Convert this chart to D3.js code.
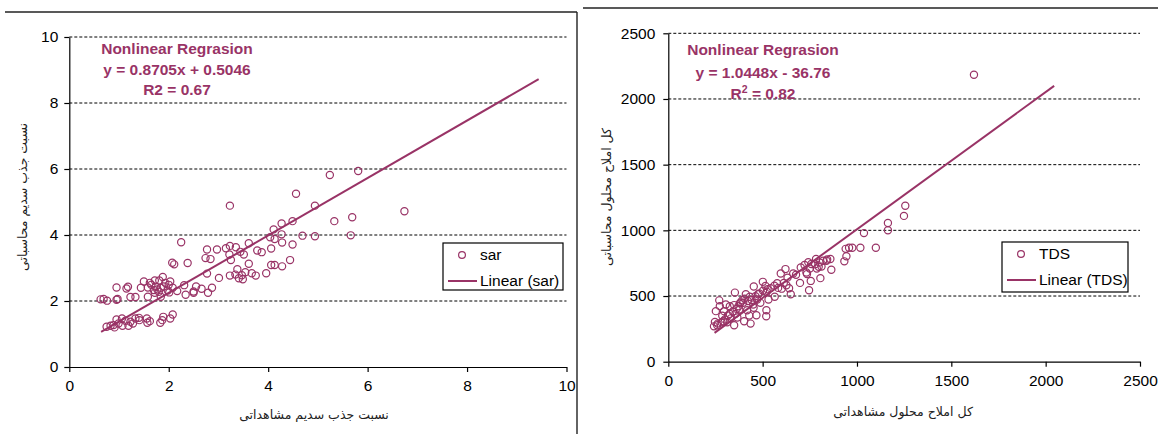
<!DOCTYPE html>
<html>
<head>
<meta charset="utf-8">
<script src="https://cdn.jsdelivr.net/npm/d3@7"></script>
<style>
  html, body { margin: 0; padding: 0; background: #fff; }
  svg { display: block; }
</style>
</head>
<body>
<svg id="chart" width="1158" height="434"></svg>
<script>
// ---- SAR panel data (observed, calculated) ----
const sarPoints = [
  [5.24,5.82],[5.81,5.94],[4.56,5.25],[3.23,4.89],[4.94,4.89],[5.33,4.42],[5.69,4.54],[6.74,4.72],
  [4.49,4.42],[4.27,4.35],[4.11,4.17],[4.69,3.98],[4.94,3.96],[5.66,3.99],[4.27,4.02],[4.13,3.88],
  [4.04,3.93],[4.28,3.77],[4.49,3.71],[4.06,3.59],[4.44,3.24],[4.28,3.05],[4.13,3.09],[4.06,3.09],
  [3.96,2.84],[3.75,2.77],[3.67,2.84],[3.61,3.13],[3.61,3.75],[3.78,3.53],[3.87,3.48],[3.15,3.60],
  [3.23,3.67],[3.35,3.63],[3.44,3.49],[3.51,3.41],[3.22,3.41],[3.25,3.24],[3.23,2.77],[3.34,2.80],
  [3.38,2.96],[3.47,2.78],[3.49,2.66],[3.54,2.87],[3.41,2.69],[2.77,3.56],[2.97,3.56],[2.74,3.30],
  [2.84,3.27],[2.77,2.83],[3.01,2.70],[2.87,2.40],[2.79,2.25],[2.25,3.78],[2.07,3.16],[2.11,3.11],
  [2.38,3.15],[2.03,2.59],[2.17,2.30],[2.31,2.48],[2.34,2.19],[2.50,2.29],[2.55,2.44],[2.66,2.37],
  [2.50,2.25],[2.08,2.40],[2.01,2.26],[0.95,2.41],[1.18,2.43],[1.15,2.38],[1.44,2.40],[1.50,2.59],
  [1.58,2.41],[1.58,2.13],[1.72,2.62],[1.88,2.73],[1.81,2.62],[1.74,2.43],[1.84,2.40],[1.90,2.44],
  [1.72,2.25],[1.80,2.28],[2.00,2.49],[1.65,2.49],[1.70,2.33],[1.84,2.13],[1.23,2.12],[1.33,2.12],
  [0.97,2.06],[0.95,2.04],[0.63,2.05],[0.69,2.06],[0.76,2.01],[0.75,1.22],[0.83,1.25],[0.91,1.20],
  [0.89,1.27],[0.95,1.44],[1.06,1.47],[1.07,1.25],[1.19,1.25],[1.23,1.37],[1.28,1.32],[1.33,1.47],
  [1.40,1.49],[1.41,1.42],[1.56,1.47],[1.57,1.34],[1.62,1.39],[1.83,1.34],[1.87,1.42],[1.89,1.52],
  [2.03,1.47],[2.08,1.59],[0.99,1.32],[1.13,1.40],[1.93,2.55],[1.62,2.55],[1.77,2.35],[1.98,2.32]
];
const sarFit = [0.8705, 0.5046];      // slope, intercept
const sarFitRange = [0.64, 9.44];
const sarTicks = [0, 2, 4, 6, 8, 10];
const sarNote = ["Nonlinear Regrasion", "y = 0.8705x + 0.5046", "R2 = 0.67"];
const sarLegend = ["sar", "Linear (sar)"];
const sarTitleX = "نسبت جذب سدیم مشاهداتی";
const sarTitleY = "نسبت جذب سدیم محاسباتی";

// ---- TDS panel data (observed, calculated) ----
const tdsPoints = [
  [1620,2185],[1256,1187],[1249,1110],[1164,1056],[1164,1000],[1037,979],[1100,867],[1018,867],
  [975,867],[958,867],[940,859],[944,803],[933,764],[864,700],[859,782],[838,769],[820,769],
  [802,756],[783,782],[797,723],[787,710],[806,636],[758,744],[750,710],[732,679],[735,667],
  [755,615],[746,544],[698,600],[677,662],[621,705],[596,672],[649,513],[640,559],[626,582],
  [601,556],[577,597],[564,495],[531,474],[520,392],[519,346],[526,551],[515,577],[501,608],
  [476,513],[471,474],[467,354],[453,572],[450,436],[436,290],[429,351],[432,495],[411,513],
  [397,449],[379,444],[402,308],[353,526],[349,431],[349,277],[376,397],[356,364],[326,423],
  [326,364],[305,436],[295,385],[291,308],[270,467],[273,423],[252,385],[247,303],[242,269],
  [259,277],[262,290],[282,300],[300,322],[312,300],[332,330],[342,382],[362,402],[372,422],
  [384,452],[392,468],[404,480],[422,462],[442,470],[462,498],[482,520],[502,540],[522,532],
  [542,560],[562,578],[582,562],[612,600],[632,640],[662,672],[702,718],[722,736],[742,758],
  [778,742],[812,724],[842,778],[452,410],[488,448],[418,392],[366,336],[316,352],[286,350]
];
const tdsFit = [1.0448, -36.76];
const tdsFitRange = [245, 2045];
const tdsTicks = [0, 500, 1000, 1500, 2000, 2500];
const tdsNote = ["Nonlinear Regrasion", "y = 1.0448x - 36.76", "R", "2", " = 0.82"];
const tdsLegend = ["TDS", "Linear (TDS)"];
const tdsTitleX = "کل املاح محلول مشاهداتی";
const tdsTitleY = "کل املاح محلول محاسباتی";

const markColor = "#993366";
const svg = d3.select("#chart");
svg.append("rect").attr("width", 1158).attr("height", 434).attr("fill", "#fff");

// panel frame lines
svg.append("line").attr("x1", 5).attr("y1", 12).attr("x2", 577).attr("y2", 12)
  .attr("stroke", "#222").attr("stroke-width", 1.4);
svg.append("line").attr("x1", 577).attr("y1", 12).attr("x2", 577).attr("y2", 434)
  .attr("stroke", "#222").attr("stroke-width", 1.4);
svg.append("line").attr("x1", 583).attr("y1", 8).attr("x2", 1158).attr("y2", 8)
  .attr("stroke", "#222").attr("stroke-width", 1.4);

function drawPanel(p) {
  const g = svg.append("g");
  const x = d3.scaleLinear().domain(p.domain).range(p.xRange);
  const y = d3.scaleLinear().domain(p.domain).range(p.yRange);

  // dashed horizontal gridlines
  g.selectAll("line.grid").data(p.ticks.filter(t => t > 0)).join("line")
    .attr("class", "grid")
    .attr("x1", x(p.domain[0])).attr("x2", x(p.domain[1]))
    .attr("y1", d => y(d)).attr("y2", d => y(d))
    .attr("stroke", "#000").attr("stroke-width", 1).attr("stroke-dasharray", "3,2");

  const ax = g.append("g").attr("transform", `translate(0,${y(p.domain[0])})`)
    .call(d3.axisBottom(x).tickValues(p.ticks).tickSize(5).tickSizeOuter(0).tickPadding(8)
      .tickFormat(d3.format("d")));
  const ay = g.append("g").attr("transform", `translate(${x(p.domain[0])},0)`)
    .call(d3.axisLeft(y).tickValues(p.ticks).tickSize(5).tickSizeOuter(0).tickPadding(p.yPad)
      .tickFormat(d3.format("d")));
  [ax, ay].forEach(a => {
    a.selectAll("path, line").attr("stroke", "#000").attr("stroke-width", 1.2);
    a.selectAll("text").attr("font-family", "Liberation Sans, Arial, sans-serif")
      .attr("font-size", 15.5).attr("fill", "#000");
  });

  // regression line from its equation
  const fx = p.fitRange;
  g.append("line")
    .attr("x1", x(fx[0])).attr("y1", y(p.fit[0] * fx[0] + p.fit[1]))
    .attr("x2", x(fx[1])).attr("y2", y(p.fit[0] * fx[1] + p.fit[1]))
    .attr("stroke", markColor).attr("stroke-width", 2);

  // observed vs calculated points
  g.selectAll("circle.pt").data(p.points).join("circle")
    .attr("class", "pt")
    .attr("cx", d => x(d[0])).attr("cy", d => y(d[1])).attr("r", 3.6)
    .attr("fill", "none").attr("stroke", markColor).attr("stroke-width", 1.2);

  // equation note
  const note = g.append("g").attr("font-family", "Liberation Sans, Arial, sans-serif")
    .attr("font-weight", "bold").attr("font-size", 15.5).attr("fill", markColor)
    .attr("text-anchor", "middle");
  p.noteLines.forEach((ln, i) => {
    const t = note.append("text").attr("x", p.noteX).attr("y", p.noteY[i]);
    if (Array.isArray(ln)) {
      t.append("tspan").text(ln[0]);
      t.append("tspan").attr("dy", -6).attr("font-size", 10.5).text(ln[1]);
      t.append("tspan").attr("dy", 6).text(ln[2]);
    } else {
      t.text(ln);
    }
  });

  // legend
  const L = p.legend;
  const lg = g.append("g");
  lg.append("rect").attr("x", L.x).attr("y", L.y).attr("width", L.w).attr("height", L.h)
    .attr("fill", "#fff").attr("stroke", "#000").attr("stroke-width", 1.2);
  lg.append("circle").attr("cx", L.x + 19).attr("cy", L.y + 12).attr("r", 3.4)
    .attr("fill", "none").attr("stroke", markColor).attr("stroke-width", 1.2);
  lg.append("line").attr("x1", L.x + 5).attr("x2", L.x + 34)
    .attr("y1", L.y + 38).attr("y2", L.y + 38)
    .attr("stroke", markColor).attr("stroke-width", 2);
  lg.selectAll("text").data(p.legendText).join("text")
    .attr("x", L.x + 37).attr("y", (d, i) => L.y + 17 + i * 26)
    .attr("font-family", "Liberation Sans, Arial, sans-serif").attr("font-size", 15.5)
    .attr("fill", "#000").text(d => d);

  // axis titles
  g.append("text").attr("x", p.titleX[0]).attr("y", p.titleX[1])
    .attr("text-anchor", "middle").attr("direction", "rtl")
    .attr("font-family", "DejaVu Sans, sans-serif").attr("font-size", 12.5).attr("fill", "#222")
    .text(p.titleXText);
  g.append("text")
    .attr("transform", `translate(${p.titleY[0]},${p.titleY[1]}) rotate(-90)`)
    .attr("text-anchor", "middle").attr("direction", "rtl")
    .attr("font-family", "DejaVu Sans, sans-serif").attr("font-size", 12.5).attr("fill", "#222")
    .text(p.titleYText);
}

drawPanel({
  domain: [0, 10], xRange: [69.3, 566.5], yRange: [367, 37], ticks: sarTicks, yPad: 6,
  points: sarPoints, fit: sarFit, fitRange: sarFitRange,
  noteLines: sarNote, noteX: 177, noteY: [54, 75, 95],
  legend: { x: 443, y: 243, w: 120, h: 47 }, legendText: sarLegend,
  titleX: [314, 419], titleXText: sarTitleX,
  titleY: [27, 197], titleYText: sarTitleY
});

drawPanel({
  domain: [0, 2500], xRange: [668.3, 1140], yRange: [361.7, 33.3], ticks: tdsTicks, yPad: 8,
  points: tdsPoints, fit: tdsFit, fitRange: tdsFitRange,
  noteLines: [tdsNote[0], tdsNote[1], [tdsNote[2], tdsNote[3], tdsNote[4]]],
  noteX: 763, noteY: [55, 78, 99],
  legend: { x: 1002, y: 242, w: 126, h: 50 }, legendText: tdsLegend,
  titleX: [903, 416], titleXText: tdsTitleX,
  titleY: [611, 197], titleYText: tdsTitleY
});
</script>
</body>
</html>
